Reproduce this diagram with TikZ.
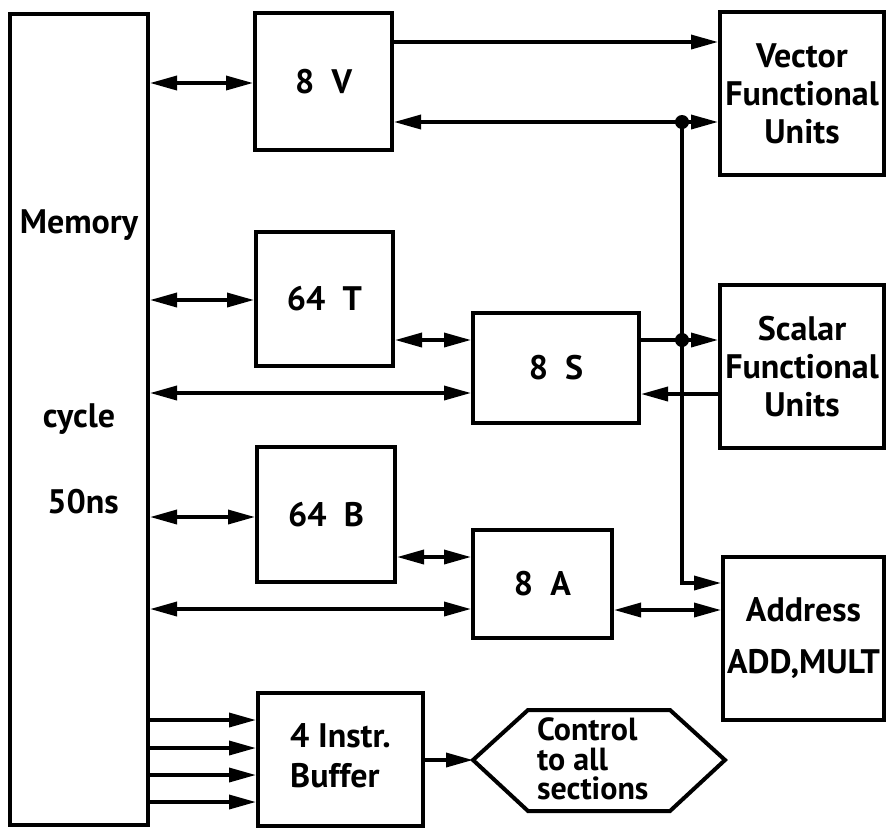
\documentclass[tikz,border=0pt]{standalone}
\usepackage{fontspec}
\setmainfont{PT Sans}
\usetikzlibrary{arrows.meta}

\tikzset{
    unit/.style 2 args={draw, line width=4pt, inner sep=0pt, align=center,
        minimum width=#1, minimum height=#2},
    dot/.style={circle, fill, inner sep=0pt, minimum size=14pt}
}

\begin{document}
\begin{tikzpicture}[x=1pt, y=-1pt, line width=3.5pt,
    >={Triangle[length=27pt, width=14pt]},
    font=\fontsize{34}{38}\selectfont\bfseries]
    \useasboundingbox (0,0) rectangle (889,828);

    % Memory
    \node[unit={138}{811}] (mem) at (79,419.5) {};
    \node[anchor=base] (memA) at (79,233) {Memory};
    \node[anchor=base] (memB) at (79,427) {cycle};
    \node[anchor=base] (memC) at (83,513) {50ns};

    % Registers
    \node[unit={137}{137}] (v8) at (323.5,81.5) {8~~V};
    \node[unit={137}{134}] (t64) at (324.5,299) {64~~T};
    \node[unit={166}{110}] (s8) at (556,368) {8~~S};
    \node[unit={138}{135}] (b64) at (326,514.5) {64~~B};
    \node[unit={139}{108}] (a8) at (542.5,584) {8~~A};
    \node[unit={165}{133}] (buf) at (340.5,759.5) {\begin{tabular}{@{}l@{}}4 Instr.\\[2pt]Buffer\end{tabular}};

    % Functional units
    \node[unit={164}{163}] (vfu) at (802,93.5) {Vector\\Functional\\Units};
    \node[unit={164}{163}] (sfu) at (802,366.5) {Scalar\\Functional\\Units};
    \node[unit={161}{163}] (afu) at (803.5,638.5) {Address\\[14pt]ADD,MULT};

    % Control
    \node[align=left, anchor=west, font=\fontsize{32}{29.5}\selectfont\bfseries] (ctl) at (532,759) {Control\\to all\\sections};
    \draw[line width=4pt] (473,760) -- (528,710) -- (670,710) -- (725,760)
        -- (670,811) -- (528,811) -- cycle;
    \coordinate (ctlW) at (473,760);

    % Junctions
    \coordinate (jv) at (682,122);
    \coordinate (js) at (682,340);
    \coordinate (jb) at (682,583);

    % Memory links
    \draw[<->] (mem.east |- 0,83) -- (v8.west |- 0,83);
    \draw[<->] (mem.east |- 0,300) -- (t64.west |- 0,300);
    \draw[<->] (mem.east |- 0,393) -- (s8.west |- 0,393);
    \draw[<->] (mem.east |- 0,517) -- (b64.west |- 0,517);
    \draw[<->] (mem.east |- 0,609) -- (a8.west |- 0,609);
    \foreach \y in {720, 748, 775, 802} {
        \draw[->] (mem.east |- 0,\y) -- (buf.west |- 0,\y);
    }

    % Register links
    \draw[<->] (t64.east |- js) -- (s8.west |- js);
    \draw[<->] (b64.east |- 0,557) -- (a8.west |- 0,557);
    \draw[<->] (a8.east |- 0,610) -- (afu.west |- 0,610);
    \draw[->] (buf.east |- ctlW) -- (ctlW);

    % Vector and scalar paths
    \draw[->] (v8.east |- 0,42) -- (vfu.west |- 0,42);
    \draw[->] (s8.east |- js) -- (sfu.west |- js);
    \draw[->] (sfu.west |- 0,394) -- (s8.east |- 0,394);
    \draw[->] (jv) -- (v8.east |- jv);
    \draw[->] (jv) -- (vfu.west |- jv);
    \draw[->] (jv) -- (jb) -- (afu.west |- jb);
    \node[dot] (dv) at (jv) {};
    \node[dot] (ds) at (js) {};
\end{tikzpicture}
\end{document}
